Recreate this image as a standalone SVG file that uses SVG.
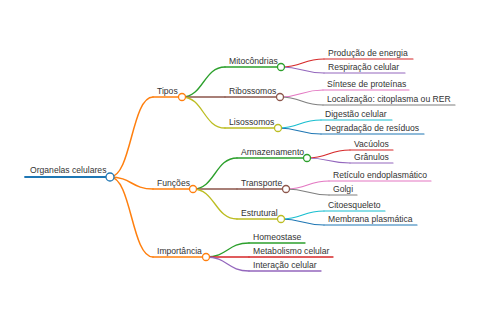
<svg xmlns="http://www.w3.org/2000/svg" width="480" height="320" viewBox="0 0 480 320">
<style>
text{font-family:"Liberation Sans",Arial,sans-serif;font-size:8.6px;fill:#333}
path,line{fill:none;stroke-linecap:round}
circle{fill:#fff;stroke-width:1.3}
.l1{stroke-width:1.8}
.l2{stroke-width:1.5}
.l3{stroke-width:1.3}
.l4{stroke-width:1.1}
.blue{stroke:#1f77b4}.orange{stroke:#ff7f0e}.green{stroke:#2ca02c}.red{stroke:#d62728}
.purple{stroke:#9467bd}.brown{stroke:#8c564b}.pink{stroke:#e377c2}.gray{stroke:#7f7f7f}
.olive{stroke:#bcbd22}.cyan{stroke:#17becf}
</style>
<rect width="480" height="320" fill="#fff"/>
<g id="connectors">
<path class="l2 orange" d="M110,177 C131.5,177 131.5,97 153,97"/>
<path class="l2 orange" d="M110,177 C131.5,177 131.5,189 153,189"/>
<path class="l2 orange" d="M110,177 C131.5,177 131.5,257 153,257"/>
<path class="l3 green" d="M182,97 C203.5,97 203.5,67 225,67"/>
<path class="l3 brown" d="M182,97 L225,97"/>
<path class="l3 olive" d="M182,97 C203.5,97 203.5,128 225,128"/>
<path class="l3 green" d="M193,189 C215,189 215,158 237,158"/>
<path class="l3 brown" d="M193,189 L237,189"/>
<path class="l3 olive" d="M193,189 C215,189 215,219 237,219"/>
<path class="l3 green" d="M206,257 C227.5,257 227.5,243 249,243"/>
<path class="l3 red" d="M206,257 L249,257"/>
<path class="l3 purple" d="M206,257 C227.5,257 227.5,271 249,271"/>
<path class="l4 red" d="M281,67 C302.5,67 302.5,59 324,59"/>
<path class="l4 purple" d="M281,67 C302.5,67 302.5,73 324,73"/>
<path class="l4 pink" d="M280,97 C301.5,97 301.5,90 323,90"/>
<path class="l4 gray" d="M280,97 C301.5,97 301.5,105 323,105"/>
<path class="l4 cyan" d="M278,128 C299.5,128 299.5,120 321,120"/>
<path class="l4 blue" d="M278,128 C299.5,128 299.5,134 321,134"/>
<path class="l4 red" d="M307,158 C328.5,158 328.5,150 350,150"/>
<path class="l4 purple" d="M307,158 C328.5,158 328.5,163 350,163"/>
<path class="l4 pink" d="M286,189 C307.5,189 307.5,181 329,181"/>
<path class="l4 gray" d="M286,189 C307.5,189 307.5,195 329,195"/>
<path class="l4 cyan" d="M281,219 C302.5,219 302.5,211 324,211"/>
<path class="l4 blue" d="M281,219 C302.5,219 302.5,225 324,225"/>
</g>
<g id="root"><line class="l1 blue" x1="25" y1="177" x2="110" y2="177"/><circle class="blue" cx="110" cy="177" r="4"/><text x="30" y="173">Organelas celulares</text></g>
<g id="tipos"><line class="l2 orange" x1="153" y1="97" x2="182" y2="97"/><circle class="orange" cx="182" cy="97" r="3.5"/><text x="157" y="93.5">Tipos</text></g>
<g id="funcoes"><line class="l2 orange" x1="153" y1="189" x2="193" y2="189"/><circle class="orange" cx="193" cy="189" r="3.5"/><text x="157" y="185.5">Funções</text></g>
<g id="importancia"><line class="l2 orange" x1="153" y1="257" x2="206" y2="257"/><circle class="orange" cx="206" cy="257" r="3.5"/><text x="157" y="253.5">Importância</text></g>
<g id="mitocondrias"><line class="l3 green" x1="225" y1="67" x2="281" y2="67"/><circle class="green" cx="281" cy="67" r="3.5"/><text x="229" y="63.5">Mitocôndrias</text></g>
<g id="ribossomos"><line class="l3 brown" x1="225" y1="97" x2="280" y2="97"/><circle class="brown" cx="280" cy="97" r="3.5"/><text x="229" y="93.5">Ribossomos</text></g>
<g id="lisossomos"><line class="l3 olive" x1="225" y1="128" x2="278" y2="128"/><circle class="olive" cx="278" cy="128" r="3.5"/><text x="229" y="124.5">Lisossomos</text></g>
<g id="armazenamento"><line class="l3 green" x1="237" y1="158" x2="307" y2="158"/><circle class="green" cx="307" cy="158" r="3.5"/><text x="241" y="154.5">Armazenamento</text></g>
<g id="transporte"><line class="l3 brown" x1="237" y1="189" x2="286" y2="189"/><circle class="brown" cx="286" cy="189" r="3.5"/><text x="241" y="185.5">Transporte</text></g>
<g id="estrutural"><line class="l3 olive" x1="237" y1="219" x2="281" y2="219"/><circle class="olive" cx="281" cy="219" r="3.5"/><text x="241" y="215.5">Estrutural</text></g>
<g id="homeostase"><line class="l3 green" x1="249" y1="243" x2="305" y2="243"/><text x="253" y="239.5">Homeostase</text></g>
<g id="metabolismo"><line class="l3 red" x1="249" y1="257" x2="333" y2="257"/><text x="253" y="253.5">Metabolismo celular</text></g>
<g id="interacao"><line class="l3 purple" x1="249" y1="271" x2="321" y2="271"/><text x="253" y="267.5">Interação celular</text></g>
<g id="producao"><line class="l4 red" x1="324" y1="59" x2="413" y2="59"/><text x="328" y="55.5">Produção de energia</text></g>
<g id="respiracao"><line class="l4 purple" x1="324" y1="73" x2="405" y2="73"/><text x="328" y="69.5">Respiração celular</text></g>
<g id="sintese"><line class="l4 pink" x1="323" y1="90" x2="409" y2="90"/><text x="327" y="86.5">Síntese de proteínas</text></g>
<g id="localizacao"><line class="l4 gray" x1="323" y1="105" x2="455" y2="105"/><text x="327" y="101.5">Localização: citoplasma ou RER</text></g>
<g id="digestao"><line class="l4 cyan" x1="321" y1="120" x2="392" y2="120"/><text x="325" y="116.5">Digestão celular</text></g>
<g id="degradacao"><line class="l4 blue" x1="321" y1="134" x2="424" y2="134"/><text x="325" y="130.5">Degradação de resíduos</text></g>
<g id="vacuolos"><line class="l4 red" x1="350" y1="150" x2="393" y2="150"/><text x="354" y="146.5">Vacúolos</text></g>
<g id="granulos"><line class="l4 purple" x1="350" y1="163" x2="393" y2="163"/><text x="354" y="159.5">Grânulos</text></g>
<g id="reticulo"><line class="l4 pink" x1="329" y1="181" x2="431" y2="181"/><text x="333" y="177.5">Retículo endoplasmático</text></g>
<g id="golgi"><line class="l4 gray" x1="329" y1="195" x2="357" y2="195"/><text x="333" y="191.5">Golgi</text></g>
<g id="citoesqueleto"><line class="l4 cyan" x1="324" y1="211" x2="385" y2="211"/><text x="328" y="207.5">Citoesqueleto</text></g>
<g id="membrana"><line class="l4 blue" x1="324" y1="225" x2="417" y2="225"/><text x="328" y="221.5">Membrana plasmática</text></g>
</svg>
